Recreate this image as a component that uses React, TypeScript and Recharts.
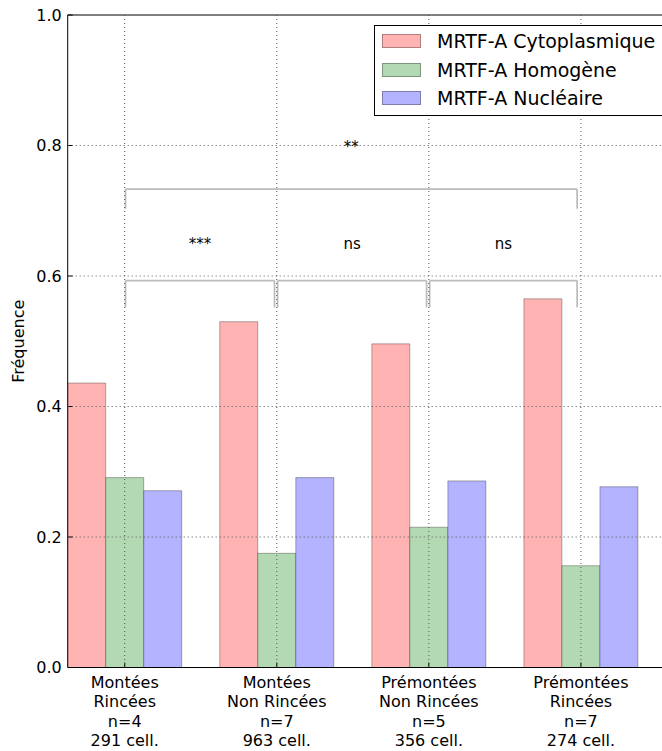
import React from "react";
import {
  ComposedChart,
  Bar,
  Cell,
  XAxis,
  YAxis,
  CartesianGrid,
  ReferenceLine,
  ReferenceDot,
  Legend,
} from "recharts";

const FONT = '"DejaVu Sans", sans-serif';

// tick labels, one list of lines per group
const categoryLabels = [
  ["Montées", "Rincées", "n=4", "291 cell."],
  ["Montées", "Non Rincées", "n=7", "963 cell."],
  ["Prémontées", "Non Rincées", "n=5", "356 cell."],
  ["Prémontées", "Rincées", "n=7", "274 cell."],
];
const seriesNames = ["MRTF-A Cytoplasmique", "MRTF-A Homogène", "MRTF-A Nucléaire"];
const cytoplasmique = [0.436, 0.53, 0.496, 0.565];
const homogene = [0.291, 0.175, 0.215, 0.156];
const nucleaire = [0.271, 0.291, 0.286, 0.277];
const yTicks = [0, 0.2, 0.4, 0.6, 0.8, 1.0];

// significance brackets (x in group units, y in frequency)
const brackets = [
  { from: 0.38, to: 3.35, top: 0.733, drop: 0.703, label: "**", labelY: 0.79 },
  { from: 0.38, to: 1.36, top: 0.593, drop: 0.552, label: "***", labelY: 0.642 },
  { from: 1.38, to: 2.36, top: 0.593, drop: 0.552, label: "ns", labelY: 0.642 },
  { from: 2.38, to: 3.35, top: 0.593, drop: 0.552, label: "ns", labelY: 0.642 },
];

const FILLS = ["#ffb3b3", "#b3d9b3", "#b3b3ff"];
const BAR_W = 0.25;

const seriesValues = [cytoplasmique, homogene, nucleaire];
const rows = categoryLabels.flatMap((_, g) =>
  seriesValues.map((vals, s) => ({
    x: g + s * BAR_W + BAR_W / 2,
    value: vals[g],
    series: s,
  }))
);
const xTicks = categoryLabels.map((_, g) => g + 1.5 * BAR_W);

function CategoryTick(props: any) {
  const { x, y, payload } = props;
  const idx = Math.round(payload.value - 1.5 * BAR_W);
  const lines = categoryLabels[idx] ?? [];
  return (
    <text
      x={x}
      y={y + 20.5}
      textAnchor="middle"
      fontSize={16}
      fontFamily={FONT}
      fill="#000"
      stroke="none"
    >
      {lines.map((line, i) => (
        <tspan key={i} x={x} dy={i === 0 ? 0 : 19.3}>
          {line}
        </tspan>
      ))}
    </text>
  );
}

function LegendBox() {
  return (
    <div
      style={{
        position: "relative",
        width: 320,
        height: 89,
        border: "1px solid #000",
        background: "#fff",
        fontFamily: FONT,
        fontSize: 19,
        color: "#000",
      }}
    >
      {seriesNames.map((name, i) => (
        <div
          key={name}
          style={{
            position: "absolute",
            left: 7,
            top: 15 + i * 28.5 - 11,
            height: 22,
            display: "flex",
            alignItems: "center",
            whiteSpace: "nowrap",
          }}
        >
          <span
            style={{
              display: "inline-block",
              width: 37,
              height: 12,
              background: FILLS[i],
              border: "1px solid rgba(0,0,0,0.3)",
              marginRight: 16,
            }}
          />
          <span>{name}</span>
        </div>
      ))}
    </div>
  );
}

export default function App() {
  return (
    <div
      style={{
        position: "absolute",
        left: 0,
        top: 0,
        width: 662,
        height: 751,
        overflow: "hidden",
        background: "#fff",
      }}
    >
      <ComposedChart
        width={752}
        height={751}
        data={rows}
        margin={{ top: 14, right: 0, left: 7.7, bottom: 3.5 }}
      >
        <XAxis
          dataKey="x"
          type="number"
          domain={[0, 4.5]}
          ticks={xTicks}
          interval={0}
          height={80}
          tickSize={-5}
          tickMargin={5}
          tick={<CategoryTick />}
          axisLine={{ stroke: "#000", strokeWidth: 1 }}
          tickLine={{ stroke: "#000" }}
          allowDataOverflow
        />
        <XAxis
          xAxisId="top"
          orientation="top"
          dataKey="x"
          type="number"
          domain={[0, 4.5]}
          ticks={xTicks}
          height={1}
          tickSize={-5}
          tick={false}
          axisLine={{ stroke: "#000", strokeWidth: 1 }}
          tickLine={{ stroke: "#000" }}
          allowDataOverflow
        />
        <YAxis
          type="number"
          domain={[0, 1]}
          ticks={yTicks}
          width={60}
          tickSize={-5}
          tickMargin={11}
          tickFormatter={(v: number) => v.toFixed(1)}
          tick={{ fontSize: 16, fontFamily: FONT, fill: "#000" }}
          axisLine={{ stroke: "#000", strokeWidth: 1 }}
          tickLine={{ stroke: "#000" }}
          label={(p: any) => {
            const vb = p.viewBox ?? { x: 7.7, y: 15, width: 60, height: 652.5 };
            const cx = vb.x + 16;
            const cy = vb.y + vb.height / 2;
            return (
              <text
                x={cx}
                y={cy}
                transform={`rotate(-90 ${cx} ${cy})`}
                textAnchor="middle"
                fontSize={16}
                fontFamily={FONT}
                fill="#000"
              >
                Fréquence
              </text>
            );
          }}
        />
        <Bar
          dataKey="value"
          barSize={38}
          stroke="#000"
          strokeOpacity={0.3}
          strokeWidth={1}
          isAnimationActive={false}
        >
          {rows.map((r, i) => (
            <Cell key={i} fill={FILLS[r.series]} />
          ))}
        </Bar>
        <CartesianGrid
          stroke="#555"
          strokeDasharray="1 3"
          strokeWidth={1}
          horizontalValues={[0.2, 0.4, 0.6, 0.8]}
          verticalValues={xTicks}
          zIndex={600}
        />
        {brackets.map((b, i) => (
          <ReferenceLine
            key={`h${i}`}
            segment={[
              { x: b.from, y: b.top },
              { x: b.to, y: b.top },
            ]}
            stroke="#bbb"
            strokeWidth={1.7}
          />
        ))}
        {brackets.map((b, i) => (
          <ReferenceLine
            key={`l${i}`}
            segment={[
              { x: b.from, y: b.top },
              { x: b.from, y: b.drop },
            ]}
            stroke="#bbb"
            strokeWidth={1.7}
          />
        ))}
        {brackets.map((b, i) => (
          <ReferenceLine
            key={`r${i}`}
            segment={[
              { x: b.to, y: b.top },
              { x: b.to, y: b.drop },
            ]}
            stroke="#bbb"
            strokeWidth={1.7}
          />
        ))}
        {brackets.map((b, i) => (
          <ReferenceDot
            key={`t${i}`}
            x={(b.from + b.to) / 2}
            y={b.labelY}
            r={0}
            shape={(p: any) => (
              <text
                x={p.cx}
                y={p.cy}
                textAnchor="middle"
                fontSize={15}
                fontFamily={FONT}
                fill="#000"
              >
                {b.label}
              </text>
            )}
          />
        ))}
        <Legend
          layout="vertical"
          align="center"
          verticalAlign="middle"
          wrapperStyle={{ left: 374, top: 25, width: 320 }}
          content={() => <LegendBox />}
        />
      </ComposedChart>
    </div>
  );
}
